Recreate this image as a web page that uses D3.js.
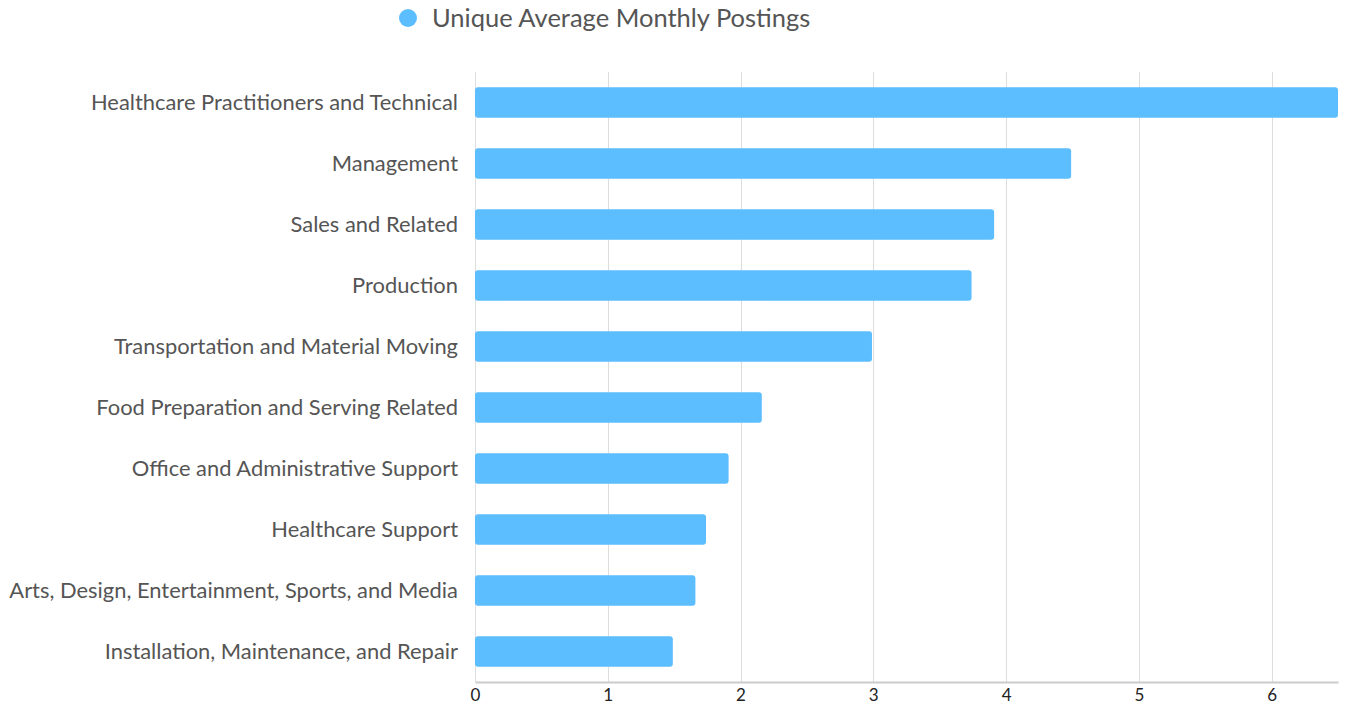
<!DOCTYPE html>
<html>
<head>
<meta charset="utf-8">
<script src="https://cdn.jsdelivr.net/npm/d3@7"></script>
<style>
  body { margin: 0; background: #fff; }
  svg { display: block; font-family: Lato, "Open Sans", sans-serif; }
</style>
</head>
<body>
<div id="chart"></div>
<script>
var categories = [
    "Healthcare Practitioners and Technical",
    "Management",
    "Sales and Related",
    "Production",
    "Transportation and Material Moving",
    "Food Preparation and Serving Related",
    "Office and Administrative Support",
    "Healthcare Support",
    "Arts, Design, Entertainment, Sports, and Media",
    "Installation, Maintenance, and Repair"
];
var postings = [6.5, 4.49, 3.91, 3.74, 2.99, 2.16, 1.91, 1.74, 1.66, 1.49];
var xTicks = [0, 1, 2, 3, 4, 5, 6];
var seriesName = "Unique Average Monthly Postings";

var width = 1352, height = 708;
var margin = { top: 72, right: 14, bottom: 26, left: 475 };
var barColor = "#5cbdff";

var svg = d3.select("#chart").append("svg")
    .attr("width", width)
    .attr("height", height);

var x = d3.scaleLinear()
    .domain([0, 6.5])
    .range([margin.left, width - margin.right]);

var y = d3.scaleBand()
    .domain(categories)
    .range([margin.top, height - margin.bottom])
    .paddingInner(0.5)
    .paddingOuter(0.25);

// grid lines
svg.append("g")
    .selectAll("line")
    .data(xTicks)
    .join("line")
    .attr("x1", function (d) { return Math.round(x(d)) + 0.5; })
    .attr("x2", function (d) { return Math.round(x(d)) + 0.5; })
    .attr("y1", margin.top)
    .attr("y2", height - margin.bottom)
    .attr("stroke", "#dddddd")
    .attr("stroke-width", 1);

// bottom axis
var xAxis = svg.append("g")
    .attr("transform", "translate(0," + (height - margin.bottom) + ")")
    .call(d3.axisBottom(x).tickValues(xTicks).tickFormat(d3.format("d")).tickSize(0).tickPadding(7));
xAxis.select(".domain").attr("stroke", "#cccccc").attr("stroke-width", 2);
xAxis.selectAll("text")
    .attr("fill", "#222")
    .style("font-size", "17px")
    .style("font-family", "Lato, sans-serif");

// bars
svg.append("g")
    .selectAll("rect")
    .data(postings)
    .join("rect")
    .attr("x", x(0))
    .attr("y", function (d, i) { return y(categories[i]); })
    .attr("width", function (d) { return x(d) - x(0); })
    .attr("height", y.bandwidth())
    .attr("rx", 3)
    .attr("fill", barColor);

// category labels
svg.append("g")
    .selectAll("text")
    .data(categories)
    .join("text")
    .attr("x", margin.left - 17)
    .attr("y", function (d) { return y(d) + y.bandwidth() / 2; })
    .attr("dy", "0.35em")
    .attr("text-anchor", "end")
    .attr("fill", "#555")
    .style("font-size", "21.9px")
    .text(function (d) { return d; });

// legend
var legend = svg.append("g");
legend.append("circle")
    .attr("cx", 408)
    .attr("cy", 18)
    .attr("r", 9)
    .attr("fill", barColor);
legend.append("text")
    .attr("x", 432)
    .attr("y", 18)
    .attr("dy", "0.35em")
    .attr("fill", "#555")
    .style("font-size", "25.5px")
    .text(seriesName);
</script>
</body>
</html>
